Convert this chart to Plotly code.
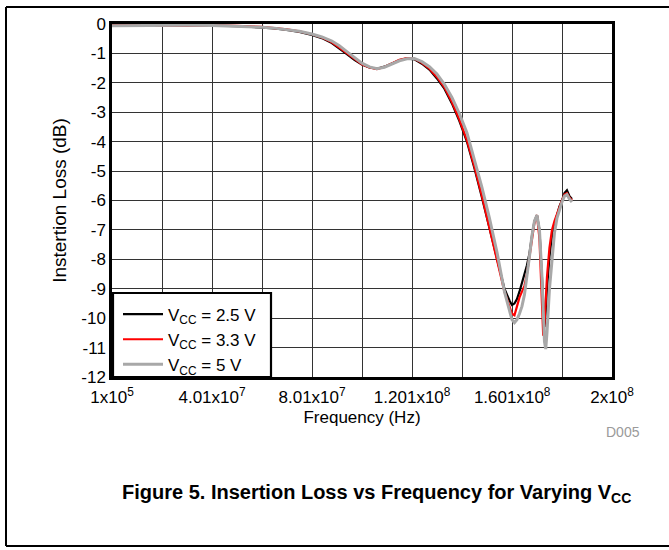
import plotly.graph_objects as go

# ---- data (frequency in MHz, insertion loss in dB) ----
freq_mhz = [0.1, 10, 20, 30, 40, 50, 60, 65, 70, 75, 80, 84, 88, 91, 94, 97, 100, 103,
            106, 109, 112, 115, 118, 121, 124, 127, 130, 133, 136, 139, 142, 145, 148,
            151, 154, 157, 159, 160, 161, 162, 163, 164, 165, 166, 167, 168, 169, 170,
            171, 172, 172.5, 173, 173.5, 174, 175, 176, 177, 178, 179, 180, 181, 182,
            183, 184]

loss_2v5 = [-0.05, -0.05, -0.04, -0.04, -0.05, -0.07, -0.11, -0.15, -0.2, -0.27, -0.37,
            -0.48, -0.65, -0.82, -1.02, -1.22, -1.38, -1.48, -1.52, -1.45, -1.33, -1.23,
            -1.17, -1.2, -1.35, -1.55, -1.85, -2.2, -2.7, -3.3, -4.0, -4.9, -5.9, -6.95,
            -8.0, -9.0, -9.4, -9.55, -9.5, -9.35, -9.1, -8.75, -8.5, -8.2, -7.8, -7.2,
            -6.7, -6.5, -7.0, -8.6, -9.8, -10.3, -9.8, -9.0, -7.9, -7.2, -6.8, -6.5,
            -6.2, -6.0, -5.75, -5.65, -5.85, -5.95]

loss_3v3 = [-0.05, -0.05, -0.04, -0.04, -0.04, -0.06, -0.1, -0.13, -0.18, -0.25, -0.35,
            -0.46, -0.62, -0.8, -1.0, -1.2, -1.37, -1.48, -1.53, -1.46, -1.33, -1.22,
            -1.16, -1.18, -1.32, -1.52, -1.8, -2.15, -2.65, -3.25, -3.95, -4.85, -5.85,
            -6.9, -7.95, -9.1, -9.6, -9.85, -9.9, -9.6, -9.3, -9.1, -8.9, -8.5, -7.9,
            -7.3, -6.75, -6.5, -7.3, -9.5, -10.6, -10.2, -9.3, -8.6, -7.6, -7.0, -6.7,
            -6.45, -6.2, -6.0, -5.8, -5.75, -5.9, -6.0]

loss_5v0 = [-0.06, -0.05, -0.05, -0.04, -0.05, -0.07, -0.11, -0.14, -0.19, -0.25, -0.34,
            -0.44, -0.58, -0.74, -0.94, -1.15, -1.33, -1.46, -1.52, -1.47, -1.36, -1.25,
            -1.18, -1.17, -1.28, -1.45, -1.7, -2.05, -2.5, -3.05, -3.7, -4.6, -5.55,
            -6.6, -7.75, -9.1, -9.8, -10.05, -10.15, -10.05, -9.85, -9.6, -9.2, -8.6,
            -7.9, -7.2, -6.7, -6.5, -7.0, -8.6, -9.9, -10.8, -11.05, -10.5, -9.0, -7.9,
            -7.1, -6.6, -6.3, -6.05, -5.85, -5.8, -5.95, -6.05]

series_names = ["V<sub>CC</sub> = 2.5 V", "V<sub>CC</sub> = 3.3 V", "V<sub>CC</sub> = 5 V"]
series_values = [loss_2v5, loss_3v3, loss_5v0]
series_colors = ["#000000", "#FF0000", "#A8A8A8"]
series_widths = [2.2, 2.2, 3]

x_tick_vals = [1e5, 4.01e7, 8.01e7, 1.201e8, 1.601e8, 2e8]
x_tick_text = ["1x10<sup>5</sup>", "4.01x10<sup>7</sup>", "8.01x10<sup>7</sup>",
               "1.201x10<sup>8</sup>", "1.601x10<sup>8</sup>", "2x10<sup>8</sup>"]
x_minor_vals = [2.01e7, 6.01e7, 1.001e8, 1.401e8, 1.801e8]
y_tick_vals = list(range(-12, 1))
y_tick_text = [str(v) if v < 0 else "0" for v in y_tick_vals]

FONT = "Liberation Sans Narrow, Arial Narrow, Liberation Sans, Arial, sans-serif"
freq_hz = [f * 1e6 for f in freq_mhz]

fig = go.Figure()
for name, vals, col, w in zip(series_names, series_values, series_colors, series_widths):
    fig.add_trace(go.Scatter(x=freq_hz, y=vals, mode="lines", name=name,
                             line=dict(color=col, width=w)))

GRID = "#333333"
fig.update_layout(
    width=669, height=550, autosize=False,
    margin=dict(l=112, r=57, t=24, b=173),
    paper_bgcolor="white", plot_bgcolor="white",
    font=dict(family=FONT, size=17, color="black"),
    showlegend=True,
    legend=dict(x=0.012, y=0.106, xanchor="left", yanchor="middle",
                bgcolor="rgba(0,0,0,0)", borderwidth=0,
                font=dict(family=FONT, size=17), tracegroupgap=0,
                itemwidth=40),
    xaxis=dict(range=[1e5, 2e8], tickmode="array", tickvals=x_tick_vals,
               ticktext=x_tick_text, showgrid=True, gridcolor=GRID, gridwidth=1.3,
               minor=dict(tickvals=x_minor_vals, showgrid=True, gridcolor=GRID,
                          gridwidth=1.3),
               zeroline=False, showline=True, mirror=True, linecolor="black",
               linewidth=2.5, ticks="", tickfont=dict(size=17), ticklabelstandoff=3,
               title=dict(text="Frequency (Hz)", font=dict(size=17), standoff=5)),
    yaxis=dict(range=[-12, 0], tickmode="array", tickvals=y_tick_vals,
               ticktext=y_tick_text, showgrid=True, gridcolor=GRID, gridwidth=1.3,
               zeroline=False, showline=True, mirror=True, linecolor="black",
               linewidth=2.5, ticks="", tickfont=dict(size=17),
               title=dict(text="Instertion Loss (dB)", font=dict(size=19), standoff=10)),
)

# legend frame
fig.add_shape(type="rect", xref="paper", yref="paper", x0=0.002, x1=0.318, y0=0.0,
              y1=0.238, line=dict(color="black", width=2.2), fillcolor="white",
              layer="above")
# outer figure frame
for x0, y0, x1, y1 in [(-0.212, 1.048, 1.12, 1.048), (-0.212, 1.048, -0.212, -0.479),
                       (-0.212, -0.479, 1.12, -0.479)]:
    fig.add_shape(type="line", xref="paper", yref="paper", x0=x0, y0=y0, x1=x1, y1=y1,
                  line=dict(color="black", width=2))

fig.add_annotation(text="D005", xref="paper", yref="paper", x=1.022, y=-0.157,
                   xanchor="center", yanchor="middle", showarrow=False,
                   font=dict(family=FONT, size=14, color="#9a9a9a"))
fig.add_annotation(text="<b>Figure 5. Insertion Loss vs Frequency for Varying V<sub>CC</sub></b>",
                   xref="paper", yref="paper", x=0.528, y=-0.331, xanchor="center",
                   yanchor="middle", showarrow=False,
                   font=dict(family=FONT, size=20, color="black"))

fig.write_html("out.html", config={"displayModeBar": False},
               post_script="document.body.style.margin='0px';")
